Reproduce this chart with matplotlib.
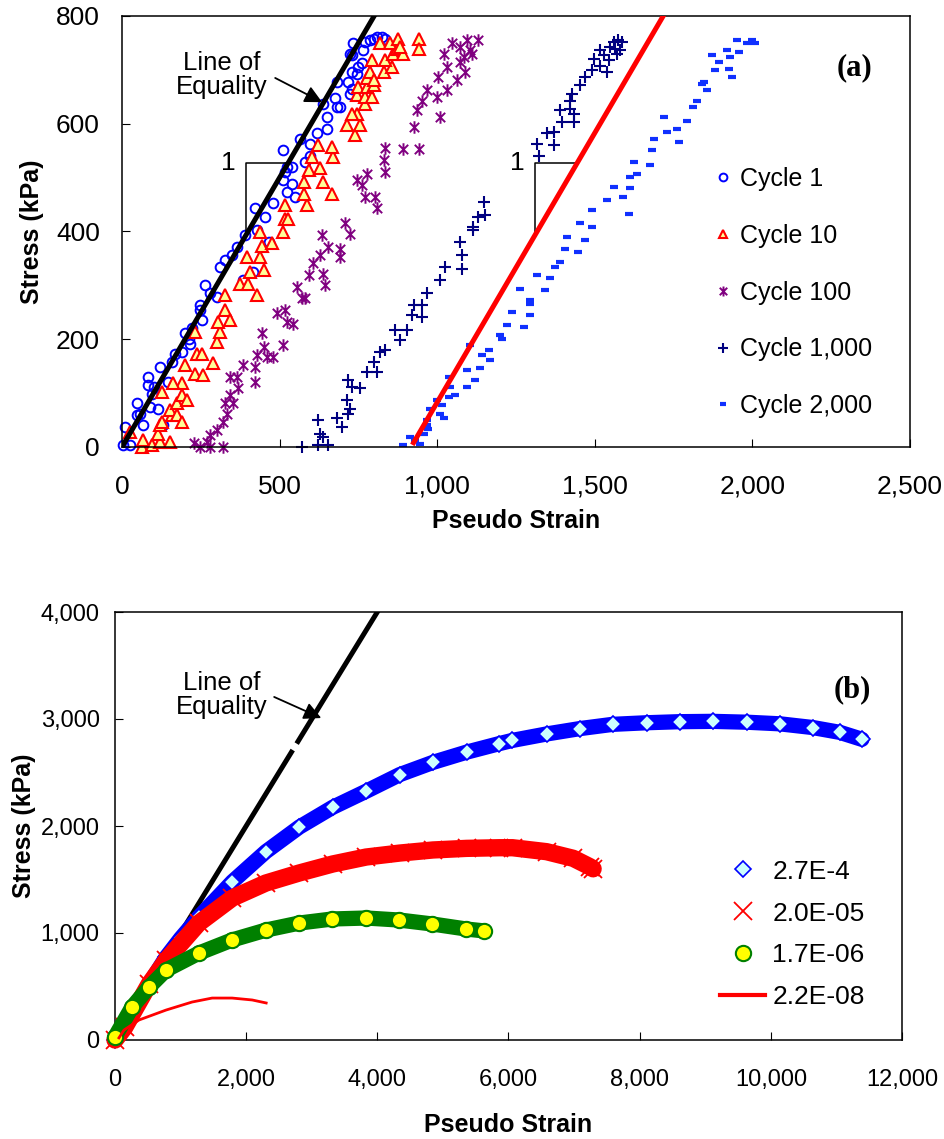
import matplotlib
matplotlib.use('Agg')
import matplotlib.pyplot as plt
from matplotlib.path import Path
from matplotlib.ticker import FuncFormatter

plt.rcParams['font.family'] = ['Liberation Sans', 'DejaVu Sans']

# ---------- (a) cyclic loading: pseudo strain / stress ----------
c1_strain = [4, 10, 25, 47, 57, 47, 68, 89, 94, 84, 84, 121, 100, 115, 131, 147, 158, 168, 189, 200,
             211, 216, 221, 248, 253, 248, 264, 279, 301, 311, 327, 348, 364, 390, 385, 417, 422, 428,
             454, 465, 480, 512, 517, 523, 512, 539, 523, 549, 539, 565, 581, 597, 597, 618, 650, 650,
             639, 676, 681, 692, 681, 724, 729, 718, 729, 729, 745, 750, 734, 766, 761, 771, 787, 798,
             808, 824, 835, 724]
c1_stress = [3, 37, 3, 59, 62, 81, 41, 75, 99, 115, 130, 149, 112, 71, 41, 121, 158, 173, 177, 211,
             201, 192, 220, 263, 235, 254, 300, 285, 279, 334, 347, 356, 371, 393, 310, 325, 443, 402,
             427, 381, 452, 551, 511, 520, 495, 489, 473, 464, 520, 572, 529, 541, 563, 582, 591, 613,
             637, 647, 631, 631, 677, 656, 665, 677, 696, 727, 693, 705, 749, 736, 712, 752, 755, 758,
             761, 761, 758, 730]

c10_strain = [25, 62, 68, 94, 121, 152, 115, 121, 126, 158, 152, 174, 189, 174, 189, 205, 189, 163, 126,
              200, 232, 258, 237, 253, 290, 232, 301, 311, 306, 327, 343, 327, 375, 401, 406, 428, 449,
              396, 438, 443, 475, 438, 512, 517, 528, 517, 586, 576, 639, 576, 592, 629, 666, 602, 671,
              623, 666, 740, 713, 756, 745, 771, 729, 745, 771, 793, 750, 777, 798, 777, 787, 798, 830,
              856, 835, 793, 861, 872, 893, 819, 851, 877, 883, 941, 941]
c10_stress = [28, 0, 13, 3, 10, 10, 25, 41, 47, 59, 68, 59, 47, 81, 96, 87, 118, 118, 102,
              152, 136, 133, 173, 173, 155, 214, 195, 214, 232, 254, 235, 282, 303, 303, 325, 282, 328,
              353, 353, 374, 378, 399, 399, 424, 424, 449, 449, 470, 492, 492, 514, 517, 470, 538, 538,
              560, 557, 579, 597, 597, 619, 637, 619, 653, 650, 650, 668, 668, 671, 684, 696, 681, 696,
              705, 718, 718, 730, 739, 730, 749, 749, 758, 742, 758, 739]

c100_strain = [227, 248, 269, 279, 279, 322, 301, 322, 332, 353, 327, 343, 369, 364, 343, 422, 422, 385,
               428, 443, 449, 459, 480, 512, 491, 517, 523, 544, 570, 581, 554, 592, 639, 644, 607, 629,
               655, 692, 692, 708, 724, 634, 745, 761, 777, 771, 803, 808, 830, 835, 835, 893, 925, 941,
               935, 951, 967, 999, 1031, 1004, 1031, 1062, 1089, 1009, 1020, 1046, 1073, 1094, 1105,
               1110, 1131, 1073, 1084]
c100_stress = [7, 0, 10, 22, 0, 0, 31, 47, 62, 81, 81, 96, 109, 130, 130, 121, 149, 152,
               170, 211, 186, 167, 167, 189, 248, 254, 232, 229, 276, 276, 297, 319, 322, 300, 341, 356,
               371, 368, 353, 415, 396, 393, 495, 486, 507, 464, 464, 443, 532, 511, 555, 554, 594, 554,
               625, 643, 662, 650, 662, 687, 705, 681, 696, 613, 730, 749, 742, 755, 736,
               730, 755, 715, 724]

c1000_strain = [570, 623, 639, 629, 623, 655, 681, 697, 718, 713, 724, 729, 718, 756, 777, 798, 808, 819,
                835, 867, 883, 904, 920, 951, 925, 951, 967, 1009, 1025, 1078, 1078, 1073, 1115, 1115,
                1131, 1152, 1147, 1322, 1316, 1348, 1369, 1369, 1390, 1396, 1422, 1427, 1433, 1422,
                1433, 1454, 1470, 1491, 1496, 1517, 1539, 1517, 1528, 1549, 1560, 1575, 1586, 1565,
                1581, 1570, 1544]
c1000_stress = [0, 3, 19, 25, 50, 3, 53, 37, 62, 87, 71, 112, 124, 109, 139, 158, 139, 177,
                180, 217, 198, 217, 245, 242, 263, 263, 285, 310, 334, 331, 356, 381, 402, 408,
                427, 430, 455, 541, 563, 582, 585, 560, 625, 603, 643, 656, 603, 628,
                619, 671, 687, 699, 721, 708, 696, 736, 727, 742, 752, 755, 752, 739,
                736, 730, 718]

c2000_strain = [893, 914, 930, 946, 957, 967, 972, 967, 978, 1009, 999, 1015, 1020, 1036, 1041, 1057, 1036,
                1094, 1094, 1121, 1105, 1136, 1142, 1163, 1168, 1200, 1205, 1221, 1237, 1274, 1263, 1295,
                1295, 1295, 1316, 1343, 1359, 1374, 1390, 1411, 1406, 1448, 1454, 1470, 1491, 1491, 1538,
                1560, 1591, 1607, 1612, 1612, 1634, 1623, 1676, 1681, 1687, 1718, 1729, 1761, 1766, 1792,
                1813, 1824, 1840, 1845, 1856, 1872, 1893, 1882, 1925, 1935, 1919, 1930, 1951, 1956, 1983,
                1999, 2009]
c2000_stress = [3, 19, 13, 6, 25, 41, 34, 50, 71, 62, 87, 78, 53, 130, 112, 96, 93,
                112, 143, 124, 189, 146, 170, 180, 161, 207, 201, 226, 251, 223, 294, 272,
                266, 245, 319, 291, 313, 334, 344, 390, 368, 362, 415, 384, 439, 408, 458,
                483, 464, 433, 480, 501, 507, 529, 523, 551, 572, 613, 585, 591, 566, 606,
                631, 643, 674, 677, 662, 727, 715, 699, 702, 687, 736, 724, 755, 733, 749,
                755, 749]

eq_a_strain = [0, 800]          # line of equality, stress = pseudo strain
fit_a_strain = [925, 1725]      # cycle 2,000 reference line
fit_a_offset = 917
tri_a = [(394, 527), (1311, 527)]   # slope-triangle corners (strain at foot, stress at top)

# ---------- (b) monotonic tests at several strain rates ----------
r1_strain = [0, 300, 600, 780, 1000, 1280, 1790, 2300, 2810, 3320, 3830, 4340, 4850, 5360, 5860, 6060,
             6580, 7084, 7588, 8107, 8611, 9115, 9634, 10137, 10641, 11053, 11389]
r1_stress = [0, 300, 600, 775, 950, 1150, 1480, 1760, 1990, 2175, 2325, 2480, 2595, 2690, 2770, 2800,
             2860, 2910, 2950, 2965, 2975, 2978, 2970, 2955, 2920, 2875, 2810]

r2_strain = [0, 150, 519, 780, 1280, 1790, 2300, 2810, 3320, 3830, 4340, 4850, 5360, 5860, 6061, 6580,
             6987, 7240, 7290]
r2_stress = [0, 120, 520, 745, 1093, 1327, 1467, 1561, 1645, 1710, 1747, 1776, 1791, 1797, 1797, 1760,
             1698, 1620, 1600]

r3_strain = [0, 260, 519, 779, 1282, 1786, 2305, 2809, 3313, 3832, 4336, 4840, 5359, 5634]
r3_stress = [30, 308, 495, 654, 813, 935, 1028, 1093, 1131, 1140, 1121, 1084, 1037, 1019]

r4_strain = [60, 137, 366, 779, 1176, 1481, 1786, 2092, 2305]
r4_stress = [20, 93, 187, 280, 355, 392, 392, 374, 346]

eq_b_strain = [0, 2690, 2790, 4000]

W, H = 945, 1139
fig = plt.figure(figsize=(W / 100, H / 100), dpi=100)
ax1 = fig.add_axes([122 / W, 1 - 447 / H, 788 / W, 431 / H])
ax2 = fig.add_axes([115 / W, 1 - 1040 / H, 787 / W, 428 / H])

comma = FuncFormatter(lambda v, p: f"{v:,.0f}")
asterisk = Path([(0, -1), (0, 1), (-0.75, -0.75), (0.75, 0.75), (-0.75, 0.75), (0.75, -0.75)],
                [Path.MOVETO, Path.LINETO] * 3)

# ----- panel (a) -----
ax1.plot(c1_strain, c1_stress, ls='none', marker='o', ms=7, mfc='none', mec='#0000ff', mew=1.4,
         label='Cycle 1', clip_on=False)
ax1.plot(c10_strain, c10_stress, ls='none', marker='^', ms=8, mfc='#ffff99', mec='#ff0000', mew=1.5,
         label='Cycle 10', clip_on=False)
ax1.plot(c100_strain, c100_stress, ls='none', marker=asterisk, ms=9, mfc='none', mec='#800080', mew=1.4,
         label='Cycle 100', clip_on=False)
ax1.plot(c1000_strain, c1000_stress, ls='none', marker='+', ms=9, mec='#000080', mew=1.5,
         label='Cycle 1,000', clip_on=False)
ax1.plot(c2000_strain, c2000_stress, ls='none', marker='_', ms=6, mec='#1030ff', mew=3,
         label='Cycle 2,000', clip_on=False)

ax1.plot(eq_a_strain, eq_a_strain, color='black', lw=3.6, zorder=4)
ax1.plot(fit_a_strain, [s - fit_a_offset for s in fit_a_strain], color='#ff0000', lw=3.6, zorder=4)

for x0, ytop in tri_a:
    run = ytop - (x0 - (0 if x0 < 800 else fit_a_offset))
    ax1.plot([x0, x0, x0 + run], [ytop - run, ytop, ytop], color='black', lw=1.1, zorder=3)
    ax1.text(x0 - 57, ytop, '1', fontsize=19, ha='center', va='center')

ax1.annotate('', xy=(635, 640), xytext=(486, 685),
             arrowprops=dict(arrowstyle='-|>', color='black', lw=1.3, mutation_scale=26,
                             shrinkA=0, shrinkB=0), zorder=5)
ax1.text(317, 690, 'Line of\nEquality', fontsize=18.5, ha='center', va='center', linespacing=1.0)
ax1.text(0.930, 0.879, '(a)', transform=ax1.transAxes, fontsize=22, fontweight='bold',
         family='Liberation Serif', ha='center', va='center')

ax1.set_xlim(0, 2500)
ax1.set_ylim(0, 800)
ax1.set_xticks([0, 500, 1000, 1500, 2000, 2500])
ax1.set_yticks([0, 200, 400, 600, 800])
ax1.xaxis.set_major_formatter(comma)
ax1.tick_params(axis='x', direction='in', length=6, labelsize=19, pad=20)
ax1.tick_params(axis='y', direction='in', length=6, labelsize=19, pad=16)
ax1.legend(loc='center left', bbox_to_anchor=(0.75, 0.358), frameon=False, fontsize=18,
           handlelength=0.8, handletextpad=0.3, labelspacing=1.31, borderpad=0, borderaxespad=0,
           markerscale=0.8)

# ----- panel (b) -----
ax2.plot(eq_b_strain[:2], eq_b_strain[:2], color='black', lw=3.6, zorder=1)
ax2.plot(eq_b_strain[2:], eq_b_strain[2:], color='black', lw=3.6, zorder=1)

ax2.plot(r1_strain, r1_stress, color='#0000ff', lw=11, solid_capstyle='round', zorder=2, clip_on=False)
ax2.plot(r1_strain, r1_stress, ls='none', marker='D', ms=8.5, mfc='#ccffff', mec='#0000ff', mew=1.2,
         label='2.7E-4', zorder=2, clip_on=False)
ax2.plot(r2_strain, r2_stress, color='#ff0000', lw=12.5, solid_capstyle='round', zorder=3, clip_on=False)
ax2.plot(r2_strain, r2_stress, ls='none', marker='x', ms=13, mec='#ff0000', mew=1.3,
         label='2.0E-05', zorder=3, clip_on=False)
ax2.plot(r3_strain, r3_stress, color='#008000', lw=11, solid_capstyle='round', zorder=4, clip_on=False)
ax2.plot(r3_strain, r3_stress, ls='none', marker='o', ms=11, mfc='#ffff00', mec='#008000', mew=1.5,
         label='1.7E-06', zorder=4, clip_on=False)
ax2.plot(r4_strain, r4_stress, color='#ff0000', lw=2, label='2.2E-08', zorder=5)

ax2.annotate('', xy=(3145, 3009), xytext=(2427, 3206),
             arrowprops=dict(arrowstyle='-|>', color='black', lw=1.3, mutation_scale=26,
                             shrinkA=0, shrinkB=0), zorder=6)
ax2.text(1634, 3224, 'Line of\nEquality', fontsize=18.5, ha='center', va='center', linespacing=1.0)
ax2.text(0.9365, 0.818, '(b)', transform=ax2.transAxes, fontsize=22, fontweight='bold',
         family='Liberation Serif', ha='center', va='center')

ax2.set_xlim(0, 12000)
ax2.set_ylim(0, 4000)
ax2.set_xticks(range(0, 12001, 2000))
ax2.set_yticks(range(0, 4001, 1000))
ax2.xaxis.set_major_formatter(comma)
ax2.yaxis.set_major_formatter(comma)
ax2.tick_params(axis='x', direction='in', length=6, labelsize=17, pad=21)
ax2.tick_params(axis='y', direction='in', length=6, labelsize=17, pad=11)
leg = ax2.legend(loc='center left', bbox_to_anchor=(0.769, 0.2465), frameon=False, fontsize=19,
                 handlelength=1.7, handletextpad=0.27, labelspacing=0.68, borderpad=0, borderaxespad=0)
for line in leg.get_lines():
    if line.get_label() == '2.2E-08':
        line.set_linewidth(3)

for ax in (ax1, ax2):
    for sp in ax.spines.values():
        sp.set_linewidth(1.1)

fig.text(516 / W, 1 - 521 / H, 'Pseudo Strain', fontsize=18, fontweight='bold', ha='center', va='center')
fig.text(32 / W, 1 - 232 / H, 'Stress (kPa)', fontsize=18, fontweight='bold', ha='center', va='center',
         rotation=90)
fig.text(508 / W, 1 - 1125 / H, 'Pseudo Strain', fontsize=18, fontweight='bold', ha='center', va='center')
fig.text(24 / W, 1 - 826 / H, 'Stress (kPa)', fontsize=18, fontweight='bold', ha='center', va='center',
         rotation=90)

fig.savefig('out.png', dpi=100)
